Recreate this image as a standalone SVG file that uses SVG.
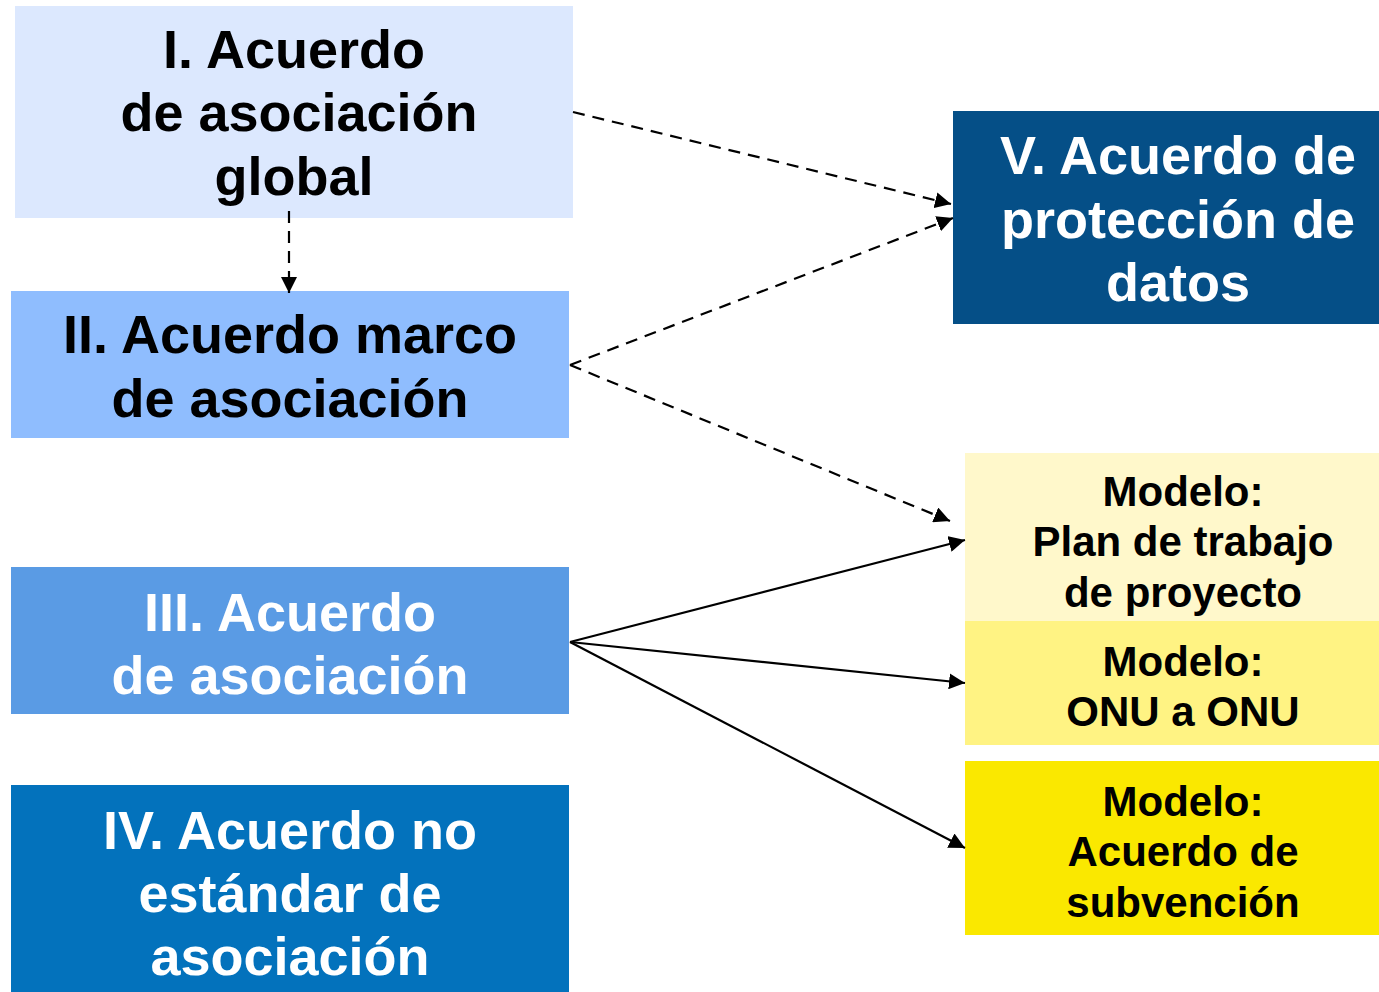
<svg xmlns="http://www.w3.org/2000/svg" width="1379" height="992" viewBox="0 0 1379 992">
<style>
.big{font-family:"Liberation Sans",Arial,sans-serif;font-weight:bold;font-size:54px;text-anchor:middle}
.sm{font-family:"Liberation Sans",Arial,sans-serif;font-weight:bold;font-size:42px;text-anchor:middle;fill:#000}
.dk{fill:#000}
.wh{fill:#fff}
.dash{stroke:#000;stroke-width:2.2;fill:none;stroke-dasharray:12,8}
.solid{stroke:#000;stroke-width:2.2;fill:none}
</style>
<defs>
<marker id="ah" viewBox="0 0 10 10" refX="10" refY="5" markerWidth="16" markerHeight="16" markerUnits="userSpaceOnUse" orient="auto">
<path d="M0,0 L10,5 L0,10 z" fill="#000"/>
</marker>
</defs>
<rect width="1379" height="992" fill="#fff"/>
<g id="node-I">
<rect x="15" y="6" width="558" height="212" fill="#DCE8FE"/>
<text class="big dk" x="294" y="68">I. Acuerdo</text>
<text class="big dk" x="299" y="131">de asociación</text>
<text class="big dk" x="294" y="195">global</text>
</g>
<g id="node-II">
<rect x="11" y="291" width="558" height="147" fill="#8FBDFE"/>
<text class="big dk" x="290" y="353">II. Acuerdo marco</text>
<text class="big dk" x="290" y="417">de asociación</text>
</g>
<g id="node-III">
<rect x="11" y="567" width="558" height="147" fill="#5A9BE4"/>
<text class="big wh" x="290" y="631">III. Acuerdo</text>
<text class="big wh" x="290" y="694">de asociación</text>
</g>
<g id="node-IV">
<rect x="11" y="785" width="558" height="207" fill="#0372BC"/>
<text class="big wh" x="290" y="849">IV. Acuerdo no</text>
<text class="big wh" x="290" y="912">estándar de</text>
<text class="big wh" x="290" y="975">asociación</text>
</g>
<g id="node-V">
<rect x="953" y="111" width="426" height="213" fill="#054F87"/>
<text class="big wh" x="1178" y="174">V. Acuerdo de</text>
<text class="big wh" x="1178" y="238">protección de</text>
<text class="big wh" x="1178" y="301">datos</text>
</g>
<g id="node-model-plan">
<rect x="965" y="453" width="414" height="168" fill="#FFF8CB"/>
<text class="sm" x="1183" y="506">Modelo:</text>
<text class="sm" x="1183" y="556">Plan de trabajo</text>
<text class="sm" x="1183" y="607">de proyecto</text>
</g>
<g id="node-model-onu">
<rect x="965" y="621" width="414" height="124" fill="#FFF383"/>
<text class="sm" x="1183" y="676">Modelo:</text>
<text class="sm" x="1183" y="726">ONU a ONU</text>
</g>
<g id="node-model-subv">
<rect x="965" y="761" width="414" height="174" fill="#FAE800"/>
<text class="sm" x="1183" y="816">Modelo:</text>
<text class="sm" x="1183" y="866">Acuerdo de</text>
<text class="sm" x="1183" y="917">subvención</text>
</g>
<g id="connectors">
<line class="dash" x1="289" y1="211" x2="289" y2="293" marker-end="url(#ah)"/>
<line class="dash" x1="573" y1="112" x2="951" y2="204" marker-end="url(#ah)"/>
<line class="dash" x1="570" y1="365" x2="953" y2="218" marker-end="url(#ah)"/>
<line class="dash" x1="570" y1="365" x2="950" y2="521" marker-end="url(#ah)"/>
<line class="solid" x1="570" y1="642" x2="965" y2="540" marker-end="url(#ah)"/>
<line class="solid" x1="570" y1="642" x2="965" y2="683" marker-end="url(#ah)"/>
<line class="solid" x1="570" y1="642" x2="965" y2="848" marker-end="url(#ah)"/>
</g>
</svg>
